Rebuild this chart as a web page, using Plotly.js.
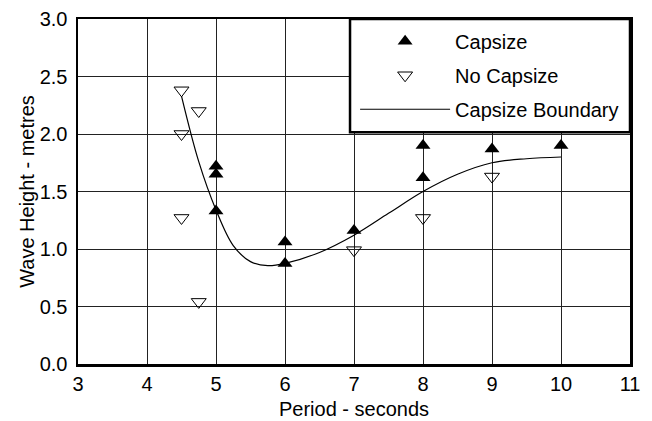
<!DOCTYPE html>
<html>
<head>
<meta charset="utf-8">
<script src="https://cdn.plot.ly/plotly-3.0.1.min.js"></script>
<style>html,body{margin:0;padding:0;background:#fff;}#chart{width:652px;height:421px;}</style>
</head>
<body>
<div id="chart"></div>
<script>
// Capsize (filled up-triangles)
const capsizePeriod = [5, 5, 5, 6, 6, 7, 8, 8, 9, 10];
const capsizeHeight = [1.72, 1.65, 1.33, 1.06, 0.875, 1.16, 1.90, 1.62, 1.87, 1.90];
// No capsize (open down-triangles)
const noCapsizePeriod = [4.5, 4.75, 4.5, 4.5, 4.75, 7, 8, 9];
const noCapsizeHeight = [2.38, 2.20, 2.00, 1.27, 0.54, 0.99, 1.27, 1.63];
// Capsize boundary curve
const boundaryPeriod = [4.5, 4.75, 5, 5.25, 5.5, 5.75, 6, 6.5, 7, 7.5, 8, 8.5, 9, 9.5, 10];
const boundaryHeight = [2.33, 1.76, 1.34, 1.03, 0.89, 0.855, 0.875, 0.97, 1.12, 1.31, 1.50, 1.65, 1.75, 1.785, 1.80];
// Axis ticks
const xTicks = [3, 4, 5, 6, 7, 8, 9, 10, 11];
const yTicks = [0, 0.5, 1.0, 1.5, 2.0, 2.5, 3.0];

const FONT = 'Liberation Sans, Arial, sans-serif';

const traces = [
  {
    x: boundaryPeriod, y: boundaryHeight, type: 'scatter', mode: 'lines',
    name: 'Capsize Boundary', line: {color: '#000', width: 1.2, shape: 'spline', smoothing: 1},
    legendrank: 3, legendgroup: 'c'
  },
  {
    x: capsizePeriod, y: capsizeHeight, type: 'scatter', mode: 'markers',
    name: 'Capsize', marker: {symbol: 'triangle-up', size: 13, color: '#000'},
    legendrank: 1, legendgroup: 'a'
  },
  {
    x: noCapsizePeriod, y: noCapsizeHeight, type: 'scatter', mode: 'markers',
    name: 'No Capsize', marker: {symbol: 'triangle-down-open', size: 13, color: '#000', line: {width: 1, color: '#000'}},
    legendrank: 2, legendgroup: 'b'
  }
];

const layout = {
  width: 652, height: 421,
  margin: {l: 78, r: 22, t: 19, b: 57, pad: 0},
  paper_bgcolor: '#fff', plot_bgcolor: '#fff',
  font: {family: FONT, size: 20, color: '#000'},
  xaxis: {
    range: [3, 11], tickvals: xTicks, ticktext: xTicks.map(String),
    showgrid: true, gridcolor: '#222', gridwidth: 1,
    showline: true, linecolor: '#000', linewidth: 2.5, mirror: true,
    zeroline: false, ticks: '', ticklabelstandoff: 0,
    title: {text: 'Period - seconds', font: {size: 20}, standoff: 9}
  },
  yaxis: {
    range: [0, 3], tickvals: yTicks, ticktext: yTicks.map(v => v.toFixed(1)),
    showgrid: true, gridcolor: '#222', gridwidth: 1,
    showline: true, linecolor: '#000', linewidth: 2.5, mirror: true,
    zeroline: false, ticks: '', ticklabelstandoff: 4,
    title: {text: 'Wave Height - metres', font: {size: 20}, standoff: 0}
  },
  shapes: [{
    type: 'rect', xref: 'paper', yref: 'paper', layer: 'above',
    x0: 0.4928, x1: 1.0, y0: 0.672, y1: 1.0,
    fillcolor: '#fff', line: {color: '#000', width: 2.5}
  }],
  showlegend: true,
  legend: {
    x: 0.502, y: 0.992, xanchor: 'left', yanchor: 'top',
    bgcolor: 'rgba(0,0,0,0)', borderwidth: 0,
    font: {family: FONT, size: 20, color: '#000'},
    traceorder: 'grouped', tracegroupgap: 5, itemwidth: 90
  }
};

Plotly.newPlot('chart', traces, layout, {displayModeBar: false, staticPlot: true});
</script>
</body>
</html>
